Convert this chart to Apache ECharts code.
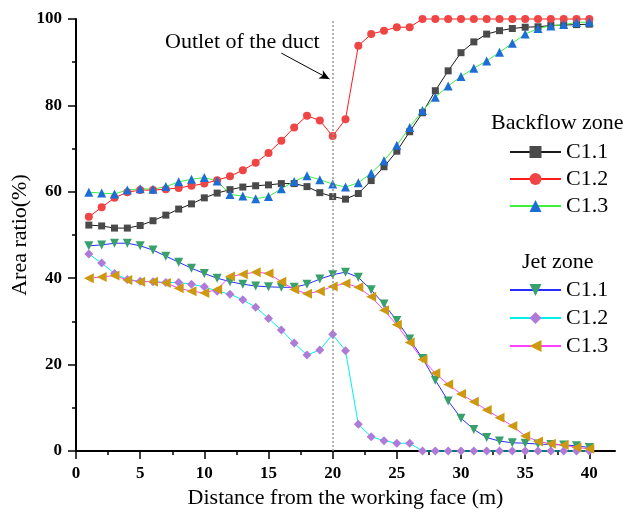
<!DOCTYPE html>
<html>
<head>
<meta charset="utf-8">
<script src="https://cdn.jsdelivr.net/npm/echarts@6/dist/echarts.min.js"></script>
<style>
  html, body { margin: 0; padding: 0; background: #fff; }
  #main { width: 627px; height: 522px; }
</style>
</head>
<body>
<div id="main"></div>
<script>
// distance from the working face (m)
const distance = [1, 2, 3, 4, 5, 6, 7, 8, 9, 10, 11, 12, 13, 14, 15, 16, 17, 18, 19, 20,
  21, 22, 23, 24, 25, 26, 27, 28, 29, 30, 31, 32, 33, 34, 35, 36, 37, 38, 39, 40]

// Backflow zone
const backC11 = [52.3, 52.1, 51.6, 51.6, 52.2, 53.3, 54.6, 56.0, 57.2, 58.6, 59.7, 60.5, 61.1, 61.4, 61.6, 61.9, 61.9, 61.2, 59.8, 58.9,
  58.3, 59.6, 62.6, 65.8, 69.4, 73.9, 78.3, 83.4, 88.0, 92.2, 94.7, 96.5, 97.3, 97.8, 98.1, 98.2, 98.5, 98.6, 98.7, 98.8]
const backC12 = [54.2, 56.4, 58.6, 59.9, 60.4, 60.4, 60.6, 60.9, 61.4, 61.9, 62.7, 63.6, 65.0, 66.7, 69.0, 71.8, 74.9, 77.6, 76.5, 72.9,
  76.8, 93.8, 96.5, 97.3, 98.1, 98.1, 100, 100, 100, 100, 100, 100, 100, 100, 100, 100, 100, 100, 100, 100]
const backC13 = [59.9, 59.7, 59.5, 60.4, 60.7, 60.6, 61.2, 62.3, 62.9, 63.3, 62.5, 59.4, 59.0, 58.4, 58.9, 60.7, 62.4, 63.7, 62.8, 61.8,
  61.1, 62.1, 64.3, 67.2, 70.8, 74.9, 78.8, 81.9, 84.5, 86.7, 88.6, 90.3, 92.3, 94.4, 96.5, 97.8, 98.4, 98.7, 99.2, 99.3]

// Jet zone
const jetC11 = [47.5, 47.7, 48.1, 48.1, 47.5, 46.5, 45.1, 43.7, 42.3, 41.1, 40.0, 39.2, 38.6, 38.2, 38.0, 37.9, 37.9, 38.6, 39.8, 40.8,
  41.4, 40.2, 37.3, 34.0, 30.2, 25.9, 21.4, 16.4, 11.6, 7.6, 5.0, 3.1, 2.3, 1.9, 1.8, 1.6, 1.5, 1.4, 1.2, 0.8]
const jetC12 = [45.6, 43.5, 41.1, 39.7, 39.3, 39.2, 39.0, 39.0, 38.6, 38.0, 37.0, 36.3, 35.0, 33.3, 30.7, 28.0, 25.0, 22.2, 23.4, 27.0,
  23.2, 6.2, 3.3, 2.4, 1.8, 1.8, 0, 0, 0, 0, 0, 0, 0, 0, 0, 0, 0, 0, 0, 0]
const jetC13 = [40.0, 40.3, 40.6, 39.6, 39.2, 39.2, 38.9, 37.7, 37.0, 36.6, 37.4, 40.4, 40.9, 41.4, 41.1, 39.2, 37.4, 36.4, 37.0, 38.1,
  38.8, 37.9, 35.7, 32.6, 29.2, 25.1, 21.2, 18.0, 15.4, 13.2, 11.4, 9.5, 7.7, 5.8, 3.5, 2.2, 1.7, 1.4, 0.8, 0.5]

// axis ticks
const xTicks = [0, 5, 10, 15, 20, 25, 30, 35, 40]
const outletX = 20

const FONT = 'Liberation Serif'

const pairs = (ys) => distance.map((x, i) => [x, ys[i]])

// one line series
const makeLine = (name, ys, lineColor, symbol, symbolColor, size, rotate) => ({
  name,
  type: 'line',
  data: pairs(ys),
  symbol,
  symbolSize: size,
  symbolRotate: rotate || 0,
  clip: false,
  lineStyle: { color: lineColor, width: 1 },
  itemStyle: { color: symbolColor, borderWidth: 0 },
  emphasis: { disabled: true },
  z: 3,
})

const series = [
  makeLine('B C1.1', backC11, '#1a1a1a', 'rect', '#4a4a4a', 7),
  makeLine('B C1.2', backC12, '#ff1a1a', 'circle', '#f04545', 8),
  makeLine('B C1.3', backC13, '#3cf03c', 'triangle', '#1c6ed6', 9),
  makeLine('J C1.1', jetC11, '#2b2bff', 'triangle', '#38a06a', 9, 180),
  makeLine('J C1.2', jetC12, '#00eeee', 'diamond', '#b07ad8', 9),
  makeLine('J C1.3', jetC13, '#ff44ff', 'triangle', '#cc9910', 10, 90),
]

// outlet of the duct: dotted vertical line + arrow
series[0].markLine = {
  silent: true,
  symbol: 'none',
  label: { show: false },
  data: [
    { xAxis: outletX, lineStyle: { color: '#9a9a9a', type: [2, 2], width: 1.5 } },
    [
      { coord: [16.0, 92.1], symbol: 'none', lineStyle: { color: '#000', type: 'solid', width: 1 } },
      { coord: [19.75, 86.1], symbol: 'arrow', symbolSize: [7, 10] },
    ],
  ],
}

const legendBase = {
  orient: 'vertical',
  left: 509,
  padding: 0,
  itemWidth: 51,
  itemHeight: 15,
  selectedMode: false,
  formatter: (name) => name.slice(2),
  textStyle: { fontFamily: FONT, fontSize: 22, color: '#000', lineHeight: 22 },
}

const option = {
  animation: false,
  backgroundColor: '#fff',
  title: [
    { text: 'Backflow zone', left: 491, top: 112, padding: 0,
      textStyle: { fontFamily: FONT, fontSize: 22, fontWeight: 'normal', color: '#000' } },
    { text: 'Jet zone', left: 522, top: 251, padding: 0,
      textStyle: { fontFamily: FONT, fontSize: 22, fontWeight: 'normal', color: '#000' } },
  ],
  legend: [
    Object.assign({}, legendBase, { top: 141, itemGap: 5, data: ['B C1.1', 'B C1.2', 'B C1.3'] }),
    Object.assign({}, legendBase, { top: 279, itemGap: 6, data: ['J C1.1', 'J C1.2', 'J C1.3'] }),
  ],
  graphic: [
    {
      type: 'text',
      left: 165,
      top: 31,
      style: { text: 'Outlet of the duct', font: '22px "Liberation Serif"', fill: '#000' },
    },
  ],
  // fixed plot box, no automatic shrinking for labels
  grid: { left: 76, right: 12, top: 19, bottom: 71, containLabel: false, outerBoundsMode: 'none' },
  xAxis: {
    type: 'value',
    min: 0,
    max: 42,
    interval: 5,
    name: 'Distance from the working face (m)',
    nameLocation: 'middle',
    nameGap: 36,
    nameMoveOverlap: false,
    nameTextStyle: { fontFamily: FONT, fontSize: 22, color: '#000' },
    axisLine: { lineStyle: { color: '#000', width: 2 } },
    axisTick: { customValues: xTicks, length: 8, lineStyle: { color: '#000', width: 1.5 } },
    minorTick: { show: true, splitNumber: 2, length: 4, lineStyle: { color: '#000', width: 1.5 } },
    axisLabel: { customValues: xTicks, margin: 14, fontFamily: FONT, fontSize: 17, fontWeight: 'bold', color: '#000' },
    splitLine: { show: false },
  },
  yAxis: {
    type: 'value',
    min: 0,
    max: 100,
    interval: 20,
    name: 'Area ratio(%)',
    nameLocation: 'middle',
    nameGap: 45,
    nameMoveOverlap: false,
    nameTextStyle: { fontFamily: FONT, fontSize: 22, color: '#000' },
    axisLine: { show: true, lineStyle: { color: '#000', width: 2 } },
    axisTick: { show: true, length: 8, lineStyle: { color: '#000', width: 1.5 } },
    minorTick: { show: true, splitNumber: 2, length: 4, lineStyle: { color: '#000', width: 1.5 } },
    axisLabel: { margin: 14, fontFamily: FONT, fontSize: 17, fontWeight: 'bold', color: '#000' },
    splitLine: { show: false },
  },
  series,
}

const chart = echarts.init(document.getElementById('main'), null, { renderer: 'canvas' })
chart.setOption(option)
</script>
</body>
</html>
